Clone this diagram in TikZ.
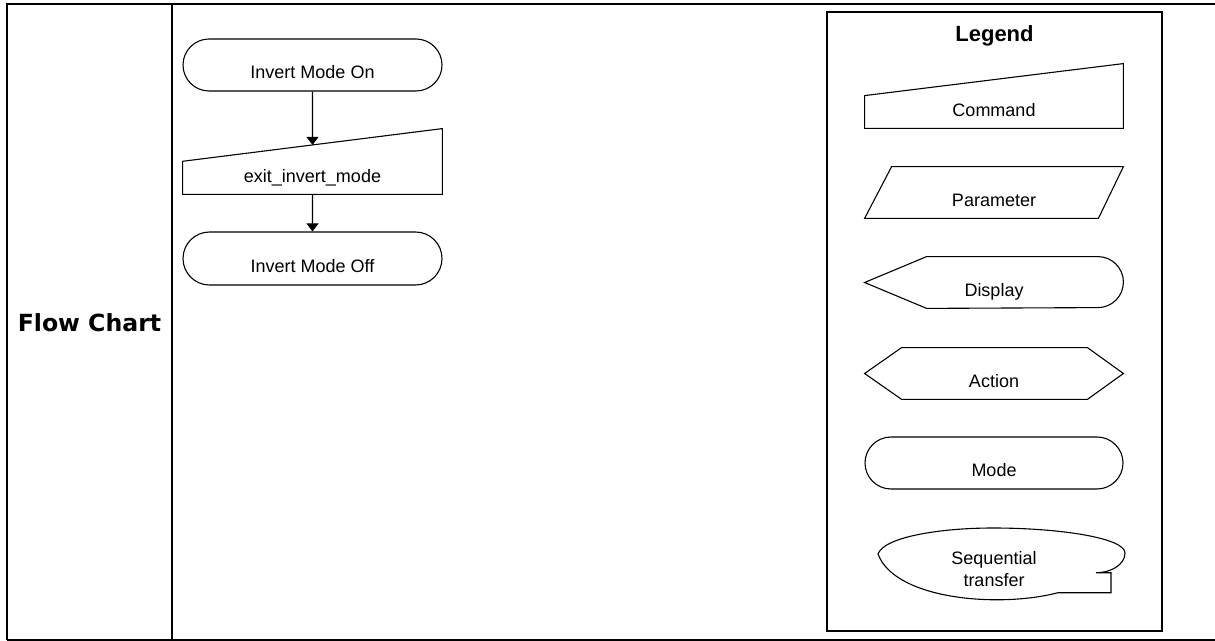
\documentclass[tikz,border=0pt]{standalone}
\usepackage{fontspec}
\setmainfont{Liberation Sans}
\newfontfamily\headfont{DejaVu Sans}
\usetikzlibrary{arrows.meta,shapes.misc,calc}

\begin{document}
\begin{tikzpicture}[x=0.5pt, y=0.5pt,
    grid/.style={line width=0.85pt},
    legendbox/.style={draw, line width=0.65pt},
    outline/.style={draw, line width=0.55pt},
    shapetext/.style={font=\fontsize{9}{11}\selectfont, inner sep=0pt, text height=13.8pt, text depth=0pt},
    mode/.style={rounded rectangle, outline, shapetext, minimum width=129.5pt, minimum height=26pt},
    command/.style={rectangle, font=\fontsize{9}{11}\selectfont, inner sep=0pt, text height=6.5pt, text depth=2pt, minimum width=129pt, minimum height=16pt},
    plain/.style={rectangle, shapetext, minimum width=129pt, minimum height=25.5pt},
    arrow/.style={-{Triangle[width=6pt, length=4pt]}, line width=0.55pt}
]
\useasboundingbox (0,0) rectangle (1215,-641);
\draw[grid] (7,-640) -- (7,-4) -- (1215,-4);
\draw[grid] (7,-640) -- (1215,-640);
\draw[grid] (172,-4) -- (172,-640);
\node[font=\headfont\bfseries\fontsize{11.8}{14}\selectfont, anchor=base] (rowhead) at (89.5,-331.7) {Flow Chart};

\node[mode] (on) at (312.5,-65) {Invert Mode On};
\node[command, minimum width=129.5pt, minimum height=16.15pt] (exit) at (312.5,-177.85) {exit\_invert\_mode};
\coordinate (exittop) at ($(exit.north)+(0,8.2pt)$);
\draw[outline] (exit.south west) -- (exit.north west) -- ([yshift=16.35pt]exit.north east) -- (exit.south east) -- cycle;
\node[mode, minimum height=26.5pt] (off) at (312.5,-258.5) {Invert Mode Off};
\draw[arrow] (on) -- (exittop);
\draw[arrow] (exit) -- (off);

\draw[legendbox] (827,-12) rectangle (1162,-631);
\node[font=\bfseries\fontsize{11}{13}\selectfont, anchor=base] (legtitle) at (994.5,-41.7) {Legend};
\node[command] (cmdkey) at (994,-112) {Command};
\draw[outline] (cmdkey.south west) -- (cmdkey.north west) -- ([yshift=16pt]cmdkey.north east) -- (cmdkey.south east) -- cycle;
\node[plain] (paramkey) at (994,-192.5) {Parameter};
\draw[outline] ([xshift=13.5pt]paramkey.north west) -- (paramkey.north east) -- ([xshift=-12.5pt]paramkey.south east) -- (paramkey.south west) -- cycle;
\node[plain] (dispkey) at (994,-282.5) {Display};
\draw[outline] (dispkey.west) -- ([xshift=31pt]dispkey.north west) -- ([xshift=-12.75pt]dispkey.north east) arc[start angle=90, end angle=-90, radius=12.75pt] -- ([xshift=31pt]dispkey.south west) -- cycle;
\node[plain] (actkey) at (994,-373.5) {Action};
\draw[outline] (actkey.west) -- ([xshift=18.5pt]actkey.north west) -- ([xshift=-18pt]actkey.north east) -- (actkey.east) -- ([xshift=-18pt]actkey.south east) -- ([xshift=18.5pt]actkey.south west) -- cycle;
\node[mode, minimum width=129pt] (modekey) at (994,-463) {Mode};
\node[font=\fontsize{9}{11}\selectfont, align=center, inner sep=0pt] (seqkey) at (994,-569) {Sequential\\transfer};
\draw[outline] (1058,-592.7) .. controls (1000,-608) and (895,-600) .. (878,-554) .. controls (884,-537) and (940,-528) .. (993,-528) .. controls (1060,-528) and (1125,-538) .. (1125,-553) .. controls (1125,-565) and (1110,-573) .. (1096,-572.7) -- (1111,-572.7) -- (1111,-592.7) -- cycle;
\end{tikzpicture}
\end{document}
